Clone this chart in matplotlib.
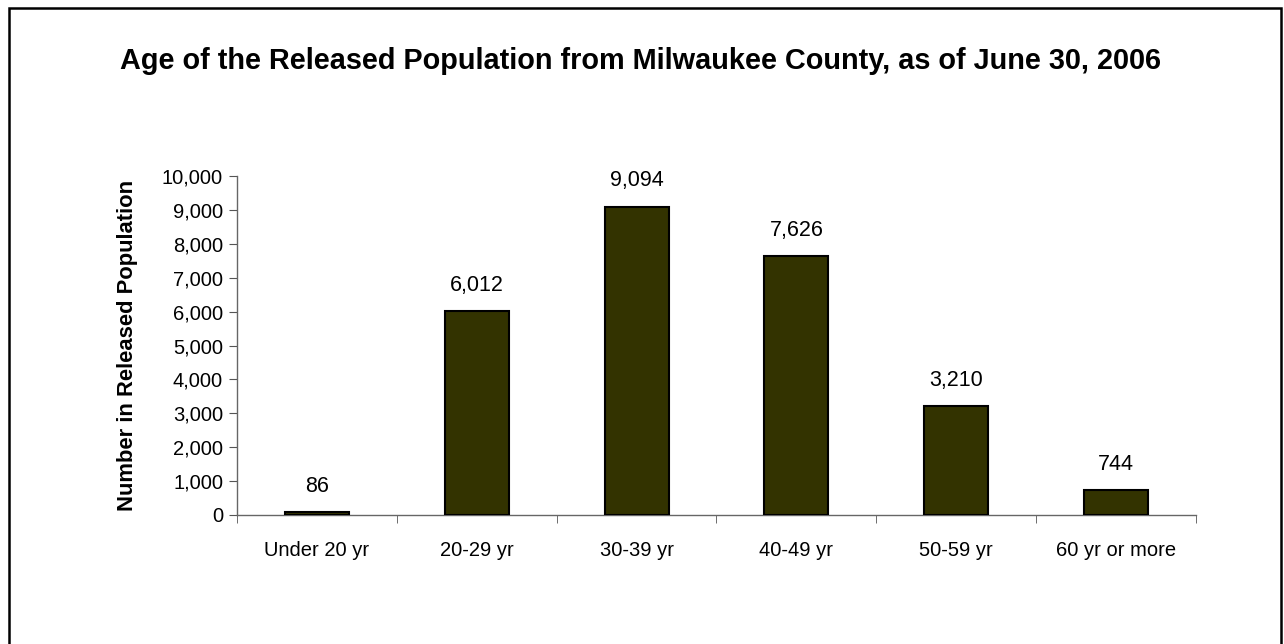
import matplotlib
matplotlib.use("Agg")
import matplotlib.pyplot as plt
from matplotlib.patches import Rectangle
import numpy as np

categories = ["Under 20 yr", "20-29 yr", "30-39 yr", "40-49 yr", "50-59 yr", "60 yr or more"]
values = [86, 6012, 9094, 7626, 3210, 744]
yticks = list(range(0, 10001, 1000))

plt.rcParams['font.family'] = ['Liberation Sans', 'DejaVu Sans']

fig = plt.figure(figsize=(12.84, 6.44), dpi=100)
fig.patches.append(Rectangle((9/1284, -0.1), (1281 - 9)/1284, 1.1 - 8.5/644, transform=fig.transFigure,
                             fill=False, edgecolor='black', linewidth=1.8))
ax = fig.add_axes([237/1284, 1 - 515/644, (1196 - 237)/1284, (515 - 176)/644])

x = np.arange(len(categories))
ax.bar(x, values, width=0.4, color='#333300', edgecolor='black', linewidth=1.5, zorder=3)
for xi, v in zip(x, values):
    ax.annotate(f"{v:,}", (xi, v), xytext=(0, 11), textcoords='offset points',
                ha='center', va='bottom', fontsize=15.5)

ax.set_xlim(-0.5, len(categories) - 0.5)
ax.set_ylim(0, 10000)
ax.set_yticks(yticks)
ax.set_yticklabels([f"{t:,}" for t in yticks], fontsize=14.5)
ax.set_xticks(x)
ax.set_xticklabels(categories, fontsize=14.5)
ax.set_xticks(np.arange(-0.5, len(categories), 1), minor=True)
ax.tick_params(axis='x', which='major', length=0, pad=19)
ax.tick_params(axis='x', which='minor', length=6, direction='out', color='#555555')
ax.tick_params(axis='y', length=6, direction='out', color='#555555', pad=4)
for s in ['top', 'right']:
    ax.spines[s].set_visible(False)
for s in ['left', 'bottom']:
    ax.spines[s].set_color('#666666')
    ax.spines[s].set_linewidth(1.0)

ax.set_ylabel("Number in Released Population", fontsize=15.8, fontweight='bold', labelpad=17)
fig.text(640/1284, 1 - 61/644, "Age of the Released Population from Milwaukee County, as of June 30, 2006",
         ha='center', va='center', fontsize=20.8, fontweight='bold')

fig.savefig("out.png", dpi=100)
